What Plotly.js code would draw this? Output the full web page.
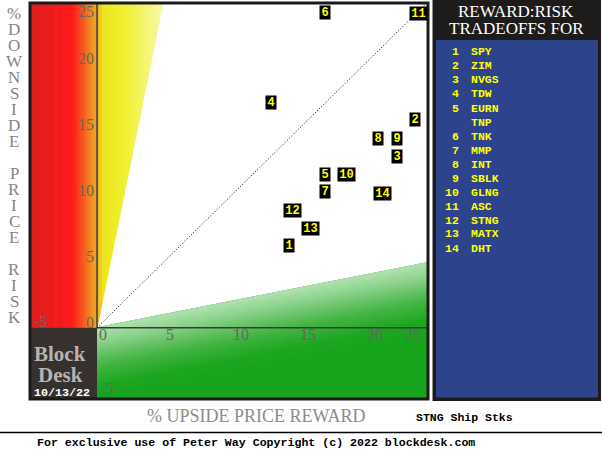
<!DOCTYPE html>
<html>
<head>
<meta charset="utf-8">
<script src="https://cdn.plot.ly/plotly-3.0.1.min.js"></script>
<style>
body { margin: 0; background: #fff; }
#chart { width: 602px; height: 460px; }
</style>
</head>
<body>
<div id="chart"></div>
<script>
// reward (upside %) vs risk (downside %)
var tickers = ['SPY', 'ZIM', 'NVGS', 'TDW', 'EURN TNP', 'TNK', 'MMP', 'INT', 'SBLK', 'GLNG', 'ASC', 'STNG', 'MATX', 'DHT'];
var upside = [14.3, 23.7, 22.4, 13.0, 17.0, 17.0, 17.0, 21.0, 22.4, 18.6, 24.0, 14.6, 15.9, 21.3];
var downside = [6.2, 15.8, 13.0, 17.1, 11.6, 23.9, 10.3, 14.3, 14.3, 11.6, 23.8, 8.9, 7.5, 10.2];
var xTicks = [-5, 0, 5, 10, 15, 20, 25];
var yTicks = [-5, 0, 5, 10, 15, 20, 25];
var yTitle = '%DOWNSIDE PRICE RISK';
var xTitle = '% UPSIDE PRICE REWARD';
var subject = 'STNG Ship Stks';
var runDate = '10/13/22';
var footer = 'For exclusive use of Peter Way Copyright (c) 2022 blockdesk.com';

var SERIF = 'Liberation Serif, Times New Roman, serif';
var MONO = 'Liberation Mono, Courier New, monospace';

// plot area in pixels
var L = 30, T = 3, R = 428, B = 399;
var xRange = [-5, 24.7], yRange = [-5.4, 24.6];

function px(x) { return (x - L) / (R - L); }
function py(y) { return (B - y) / (B - T); }
function dataX(v) { return L + (v - xRange[0]) / (xRange[1] - xRange[0]) * (R - L); }
function dataY(v) { return B - (v - yRange[0]) / (yRange[1] - yRange[0]) * (B - T); }

function mix(stops, t) {
    var i = 0;
    while (i < stops.length - 2 && t > stops[i + 1][0]) i++;
    var a = stops[i], b = stops[i + 1];
    var f = Math.max(0, Math.min(1, (t - a[0]) / (b[0] - a[0])));
    var c = [0, 1, 2].map(function (k) { return Math.round(a[1][k] + (b[1][k] - a[1][k]) * f); });
    return 'rgb(' + c.join(',') + ')';
}

var redStops = [[-5, [222, 30, 30]], [-2.6, [246, 27, 27]], [-1.8, [255, 27, 27]], [-1.0, [246, 88, 30]], [-0.3, [240, 150, 32]], [0, [240, 165, 35]]];
var yellowStops = [[0, [240, 162, 35]], [0.5, [236, 230, 28]], [2.2, [240, 240, 50]], [4.8, [248, 248, 165]]];
var greenStops = [[0, [178, 226, 178]], [1, [145, 212, 145]], [2, [105, 195, 105]], [3, [66, 180, 66]], [4.5, [28, 166, 32]], [6, [24, 164, 28]]];

var shapes = [];
var i, a, b, col;

function band(path, col) {
    shapes.push({type: 'path', xref: 'x', yref: 'y', path: path,
        fillcolor: col, line: {color: col, width: 1}, layer: 'below'});
}

// red zone left of the risk axis
for (a = -5; a < 0; a += 0.2) {
    b = a + 0.2;
    band('M ' + a + ',0 L ' + b + ',0 L ' + b + ',30 L ' + a + ',30 Z', mix(redStops, a + 0.1));
}
// yellow wedge between the risk axis and y = 5x
for (a = 0; a < 6; a += 0.2) {
    b = a + 0.2;
    band('M ' + a + ',' + (5 * a) + ' L ' + b + ',' + (5 * b) + ' L ' + b + ',30 L ' + a + ',30 Z', mix(yellowStops, a + 0.1));
}
// green wedge under y = x/5, shaded by distance from that edge
band('M 0,0 L 30,6 L 30,-10 L 0,-10 Z', mix(greenStops, 6));
for (a = 0; a < 5; a += 0.25) {
    b = a + 0.25;
    band('M 0,' + (-a) + ' L 30,' + (6 - a) + ' L 30,' + (6 - b) + ' L 0,' + (-b) + ' Z', mix(greenStops, a + 0.125));
}
// Block Desk corner
shapes.push({type: 'rect', xref: 'x', yref: 'y', x0: -6, x1: 0, y0: -6, y1: 0,
    fillcolor: '#36312f', line: {width: 0}, layer: 'below'});
// axes through the origin and the even line
shapes.push({type: 'line', xref: 'x', yref: 'y', x0: 0, x1: 0, y0: 0, y1: 30, line: {color: '#3a3a3a', width: 1.5}, layer: 'below'});
shapes.push({type: 'line', xref: 'x', yref: 'y', x0: 0, x1: 30, y0: 0, y1: 0, line: {color: '#3a3a3a', width: 1.5}, layer: 'below'});
shapes.push({type: 'line', xref: 'x', yref: 'y', x0: 0, x1: 30, y0: 0, y1: 30, line: {color: '#000', width: 1, dash: '1px,2px'}, layer: 'below'});
// frame
shapes.push({type: 'rect', xref: 'paper', yref: 'paper', x0: 0, x1: 1, y0: 0, y1: 1, line: {color: '#1a1a1a', width: 3}, layer: 'above'});
// right panel
shapes.push({type: 'rect', xref: 'paper', yref: 'paper', x0: px(432.5), x1: px(601), y0: py(401), y1: py(0),
    fillcolor: '#1e1b1b', line: {width: 0}});
shapes.push({type: 'rect', xref: 'paper', yref: 'paper', x0: px(436), x1: px(598), y0: py(397.5), y1: py(40),
    fillcolor: '#2d438b', line: {width: 0}});
// footer rule
shapes.push({type: 'line', xref: 'paper', yref: 'paper', x0: px(0), x1: px(602), y0: py(432.5), y1: py(432.5),
    line: {color: '#000', width: 1.5}});

var annotations = [];

function note(text, x, y, opts) {
    var ann = {text: text, xref: 'paper', yref: 'paper', x: px(x), y: py(y), showarrow: false,
        xanchor: 'center', yanchor: 'middle'};
    for (var k in opts) ann[k] = opts[k];
    annotations.push(ann);
}

// points as black tags with yellow numbers
for (i = 0; i < upside.length; i++) {
    var lab = String(i + 1);
    annotations.push({x: upside[i], y: downside[i], xref: 'x', yref: 'y', text: lab, showarrow: false,
        bgcolor: '#000', width: 3 + 7 * lab.length, height: 13, borderpad: 0,
        font: {family: MONO, size: 12, color: '#ffff00', weight: 'bold'}});
}

// tick labels sit on the axes through the origin
var tickFont = {family: SERIF, size: 16, color: '#6a6464'};
xTicks.forEach(function (v) {
    var p = dataX(v);
    if (v < 0) {
        note(String(v), p + 2, dataY(0) - 6, {xanchor: 'left', font: tickFont});
    } else if (p + 12 > R) {
        note(String(v), R - 5, dataY(0) + 7, {xanchor: 'right', font: tickFont});
    } else {
        note(String(v), p, dataY(0) + 7, {xanchor: 'left', font: tickFont});
    }
});
yTicks.forEach(function (v) {
    var c = Math.max(T + 8, Math.min(B - 6, dataY(v) - 5));
    if (v < 0) {
        note(String(v), dataX(0) + 1, c, {xanchor: 'left', font: tickFont});
    } else {
        note(String(v), dataX(0) - 1, c, {xanchor: 'right', font: tickFont});
    }
});

// stacked y title
yTitle.split('').forEach(function (ch, k) {
    if (ch !== ' ') note(ch, 14, 13 + k * 16.05, {height: 15, font: {family: SERIF, size: 17, color: '#858585'}});
});
note(xTitle, 256, 416, {font: {family: SERIF, size: 18, color: '#8c8c8c'}});
note(subject, 414, 417, {xanchor: 'left', font: {family: MONO, size: 11.5, color: '#000', weight: 'bold'}});
note(footer, 35, 442, {xanchor: 'left', font: {family: MONO, size: 11.6, color: '#000', weight: 'bold'}});

// corner stamp
note('Block', 60, 354, {height: 20, font: {family: SERIF, size: 21, color: '#b8b4b0', weight: 'bold'}});
note('Desk', 60, 375, {height: 20, font: {family: SERIF, size: 21, color: '#b8b4b0', weight: 'bold'}});
note(runDate, 62, 393, {height: 12, font: {family: MONO, size: 11.7, color: '#fff', weight: 'bold'}});

// panel header and list
note('REWARD:RISK', 516, 12, {font: {family: SERIF, size: 17, color: '#fff'}});
note('TRADEOFFS FOR', 516, 29, {font: {family: SERIF, size: 17, color: '#fff'}});
var row = 0;
var listFont = {family: MONO, size: 11.5, color: '#ffff00', weight: 'bold'};
tickers.forEach(function (t, k) {
    t.split(' ').forEach(function (part, j) {
        var yc = 52 + 14 * row;
        if (j === 0) note(String(k + 1), 461, yc, {xanchor: 'right', height: 13, font: listFont});
        note(part, 469, yc, {xanchor: 'left', height: 13, font: listFont});
        row++;
    });
});

var layout = {
    width: 602,
    height: 460,
    margin: {l: L, r: 602 - R, t: T, b: 460 - B, pad: 0},
    paper_bgcolor: '#fff',
    plot_bgcolor: '#fff',
    showlegend: false,
    xaxis: {range: xRange, showgrid: false, zeroline: false, showticklabels: false, ticks: '', fixedrange: true},
    yaxis: {range: yRange, showgrid: false, zeroline: false, showticklabels: false, ticks: '', fixedrange: true},
    shapes: shapes,
    annotations: annotations
};

var points = {
    x: upside,
    y: downside,
    type: 'scatter',
    mode: 'markers',
    marker: {size: 1, opacity: 0},
    hoverinfo: 'skip'
};

Plotly.newPlot('chart', [points], layout, {staticPlot: true});
</script>
</body>
</html>
